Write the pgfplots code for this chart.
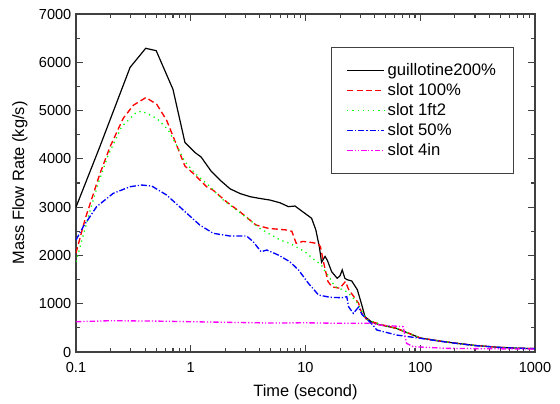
\documentclass[border=0pt]{standalone}
\usepackage{fontspec}
\setmainfont{Liberation Sans}
\usepackage{pgfplots}
\pgfplotsset{compat=1.18}
\definecolor{cblack}{RGB}{0,0,0}
\definecolor{cred}{RGB}{255,0,0}
\definecolor{cgreen}{RGB}{0,255,0}
\definecolor{cblue}{RGB}{0,0,255}
\definecolor{cmag}{RGB}{255,0,255}

\begin{document}
\begin{tikzpicture}
\begin{axis}[
    scale only axis,
    width=344.25pt, height=253.5pt,
    xmode=log,
    xmin=0.1, xmax=1000,
    ymin=0, ymax=7000,
    xtick={0.1,1,10,100,1000},
    xticklabels={0.1,1,10,100,1000},
    ytick={0,1000,2000,3000,4000,5000,6000,7000},
    minor y tick num=1,
    tick align=inside,
    major tick length=5.25pt,
    minor tick length=3pt,
    axis line style={line width=1.1pt, black!75},
    every tick/.style={black!75, line width=0.8pt},
    /pgf/number format/assume math mode=true,
    yticklabel style={/pgf/number format/set thousands separator={}},
    xticklabel style={yshift=-4pt},
    tick label style={font=\fontsize{10.9}{12}\selectfont},
    label style={font=\fontsize{12.3}{14}\selectfont},
    xlabel={Time (second)},
    ylabel={Mass Flow Rate (kg/s)},
    xlabel style={at={(axis description cs:0.5,-0.118)}, anchor=center},
    ylabel style={at={(axis description cs:-0.122,0.5)}, anchor=center, rotate=0},
    legend style={at={(rel axis cs:0.556,0.903)}, anchor=north west,
        draw=black!75, line width=0.8pt,
        font=\fontsize{12.5}{15}\selectfont,
        inner xsep=11pt, inner ysep=10pt, row sep=0.5pt},
    legend cell align=left,
    legend image code/.code={\draw[mark repeat=2,mark phase=2,#1,line width=1.2pt] plot coordinates {(0pt,0pt)(13.9pt,0pt)(27.75pt,0pt)};},
]

\addplot[color=cblack, line width=0.9pt] coordinates {
(0.1,3000)(0.16,4230)(0.296,5894)(0.405,6290)(0.5,6240)(0.7,5440)(0.89,4340)
(1.09,4130)(1.23,4040)(1.5,3750)(1.8,3560)(2.2,3380)(2.7,3280)(3.3,3216)
(4.0,3180)(4.9,3147)(6.0,3090)(7.1,3010)(8.1,3023)(9.9,2870)(11.3,2770)
(12.3,2530)(13.2,2180)(13.8,1860)(14.8,1980)(15.5,1900)(16.9,1663)(18.9,1526)
(20.0,1580)(20.9,1700)(22.0,1530)(22.9,1500)(25.3,1470)(28.3,1290)(30.9,980)
(33,730)(37.8,620)(45,560)(62,490)(80,385)(100,290)(150,225)(200,185)
(300,135)(500,95)(700,80)(1000,70)
};
\addlegendentry{guillotine200\%}

\addplot[color=cred, line width=1pt, dash pattern=on 4.5pt off 2.5pt] coordinates {
(0.1,2050)(0.12,2750)(0.162,3700)(0.198,4250)(0.258,4840)(0.316,5110)
(0.407,5270)(0.505,5130)(0.616,4800)(0.752,4290)(0.89,3850)(1.05,3700)
(1.38,3420)(1.57,3350)(2.05,3110)(2.68,2905)(3.7,2630)(4.76,2560)(6.9,2526)
(7.6,2500)(8.3,2250)(9.5,2290)(11.7,2263)(13.0,2230)(13.5,2180)(14.3,1880)
(15.7,1460)(17,1350)(19.9,1320)(22.3,1460)(23.7,1300)(29,1010)(31,800)
(34,680)(40,610)(50,545)(62,490)(80,385)(100,290)(150,225)(200,185)
(300,135)(500,95)(700,80)(1000,70)
};
\addlegendentry{slot 100\%}

\addplot[color=cgreen, line width=1pt, dash pattern=on 0.9pt off 3pt] coordinates {
(0.1,1870)(0.128,2800)(0.156,3490)(0.191,4080)(0.25,4665)(0.327,4940)
(0.373,4990)(0.505,4840)(0.636,4600)(0.75,4290)(0.89,3940)(1.09,3700)
(1.42,3458)(1.92,3147)(2.2,3043)(3.4,2700)(4.0,2560)(6.0,2320)(7.3,2250)
(9.9,2077)(11.5,1940)(13.8,1800)(14.3,1720)(15.7,1594)(18.1,1352)(21.3,1284)
(22.9,1250)(27.9,1042)(31.7,800)(34.9,663)(40,610)(50,545)(62,490)(80,385)
(100,290)(150,225)(200,185)(300,135)(500,95)(700,80)(1000,70)
};
\addlegendentry{slot 1ft2}

\addplot[color=cblue, line width=1pt, dash pattern=on 4.5pt off 1.5pt on 0.9pt off 1.5pt] coordinates {
(0.1,2320)(0.116,2600)(0.151,3008)(0.211,3286)(0.296,3423)(0.373,3458)
(0.457,3437)(0.616,3251)(0.86,2940)(1.2,2629)(1.57,2458)(2.2,2402)(3.07,2402)
(3.5,2284)(4.1,2077)(4.6,2112)(5.8,2008)(7.3,1870)(8.7,1698)(10.6,1422)
(13,1180)(16.4,1133)(20.6,1124)(22.9,1145)(23.7,940)(26.1,800)(29,930)
(31,780)(38.6,560)(41.8,456)(62,352)(100,284)(150,222)(200,183)(300,133)
(500,93)(700,79)(1000,68)
};
\addlegendentry{slot 50\%}

\addplot[color=cmag, line width=1pt, dash pattern=on 4pt off 1.5pt on 0.9pt off 1.5pt on 0.9pt off 1.5pt] coordinates {
(0.1,627)(0.2,648)(0.5,640)(1,627)(5,600)(10,605)(20,594)(38,594)(44,560)
(71,524)(76,180)(87,110)(170,76)(300,70)(1000,60)
};
\addlegendentry{slot 4in}

\end{axis}
\useasboundingbox (-57pt,-38.25pt) rectangle (363pt,264pt);
\end{tikzpicture}
\end{document}
